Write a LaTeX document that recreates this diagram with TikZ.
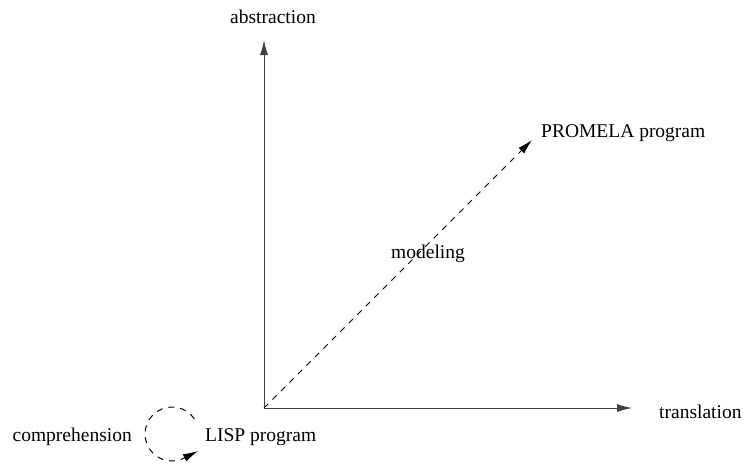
\documentclass[tikz,border=0pt]{standalone}
\usepackage{fontspec}
\setmainfont{Liberation Serif}
\usetikzlibrary{arrows.meta}
\begin{document}
\begin{tikzpicture}[x=1pt,y=-1pt,
  lbl/.style={inner sep=0pt,font=\fontsize{19.5}{23}\selectfont},
  axis/.style={line width=1pt,draw=black!75,-{Latex[length=15pt,width=8pt]}},
  dsh/.style={line width=1pt,dash pattern=on 6pt off 6pt,-{Latex[length=15pt,width=8pt]}}]
  \useasboundingbox (0,0) rectangle (744,466);
  % axes
  \coordinate (o) at (264,408);
  \coordinate (ytip) at (264,40);
  \coordinate (xtip) at (632,408);
  \coordinate (ptip) at (532,140);
  \draw[axis] (o) -- (ytip);
  \draw[axis] (o) -- (xtip);
  \draw[dsh] (o) -- (ptip);
  % labels
  \node[lbl] (abs) at (273,17) {abstraction};
  \node[lbl,anchor=west] (trans) at (659,412) {translation};
  \node[lbl,anchor=west] (prom) at (541,133) {PROMELA program};
  \node[lbl] (mod) at (428,254) {modeling};
  \node[lbl,anchor=west] (lisp) at (205,437) {LISP program};
  \node[lbl,anchor=east] (comp) at (132,437) {comprehension};
  % comprehension loop (y axis points down, so angles run clockwise on screen)
  \coordinate (cc) at (172,434);
  \coordinate (looptip) at (198,451);
  \draw[dsh] ([shift={(-34:27)}]cc) arc[start angle=-34,end angle=-300,radius=27] -- (looptip);
\end{tikzpicture}
\end{document}
